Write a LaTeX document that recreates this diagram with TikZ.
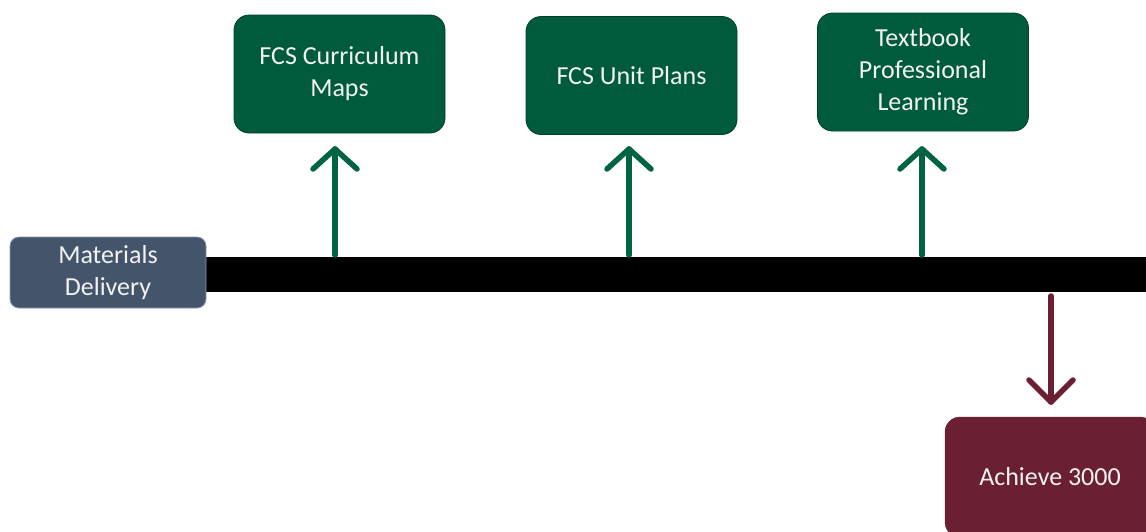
\documentclass[tikz,border=0pt]{standalone}
\usepackage{fontspec}
\setmainfont{Carlito}
\usetikzlibrary{calc}
\definecolor{fcsgreen}{HTML}{005B3D}
\definecolor{fcsgreenline}{HTML}{00402A}
\definecolor{arrgreen}{HTML}{006443}
\definecolor{slate}{HTML}{44546A}
\definecolor{slateline}{HTML}{8496B0}
\definecolor{maroon}{HTML}{6A1F32}
\definecolor{txt}{HTML}{F2F2F2}
\begin{document}
\begin{tikzpicture}[x=1pt,y=-1pt,
  boxfont/.style={font=\fontsize{26}{32}\selectfont},
  gbox/.style={draw=fcsgreenline,line width=0.8pt,fill=fcsgreen,rounded corners=15pt,text=txt,
    minimum width=211pt,minimum height=118pt,align=center,boxfont,inner sep=0pt},
  sbox/.style={draw=slateline,line width=0.8pt,fill=slate,rounded corners=9pt,text=txt,
    minimum width=196pt,minimum height=71pt,align=center,boxfont,inner sep=0pt},
  mbox/.style={draw=maroon,fill=maroon,rounded corners=15pt,text=txt,
    minimum width=210pt,minimum height=120pt,align=center,boxfont,inner sep=0pt},
  garrow/.style={draw=arrgreen,line width=5.5pt,line cap=round,line join=round},
  marrow/.style={draw=maroon,line width=5.5pt,line cap=round,line join=round}]
\useasboundingbox (0,0) rectangle (1146,531);
\clip (0,0) rectangle (1146,531);
% bar
\fill[black] (206,257) rectangle (1146,292);
\coordinate (bar) at (206,274.5);
% boxes
\node[sbox] (md) at (108,272.5) {Materials\\Delivery};
\node[gbox] (cm) at (339.5,74) {FCS Curriculum\\Maps};
\node[gbox] (up) at (631.5,75.5) {FCS Unit Plans};
\node[gbox] (tb) at (923,72) {Textbook\\Professional\\Learning};
\node[mbox] (ach) at (1050,477) {Achieve 3000};
% green arrows
\foreach \x/\n in {335/a1,629/a2,922/a3}{
  \coordinate (\n b) at (\x,255);
  \coordinate (\n t) at (\x,149);
  \draw[garrow] (\n b) -- (\n t);
  \draw[garrow] ($(\n t)+(-22,20)$) -- (\n t) -- ($(\n t)+(22,20)$);
}
% maroon arrow
\coordinate (mb) at (1051,296);
\coordinate (mt) at (1051,402);
\draw[marrow] (mb) -- (mt);
\draw[marrow] ($(mt)+(-22,-22)$) -- (mt) -- ($(mt)+(22,-22)$);
\end{tikzpicture}
\end{document}
